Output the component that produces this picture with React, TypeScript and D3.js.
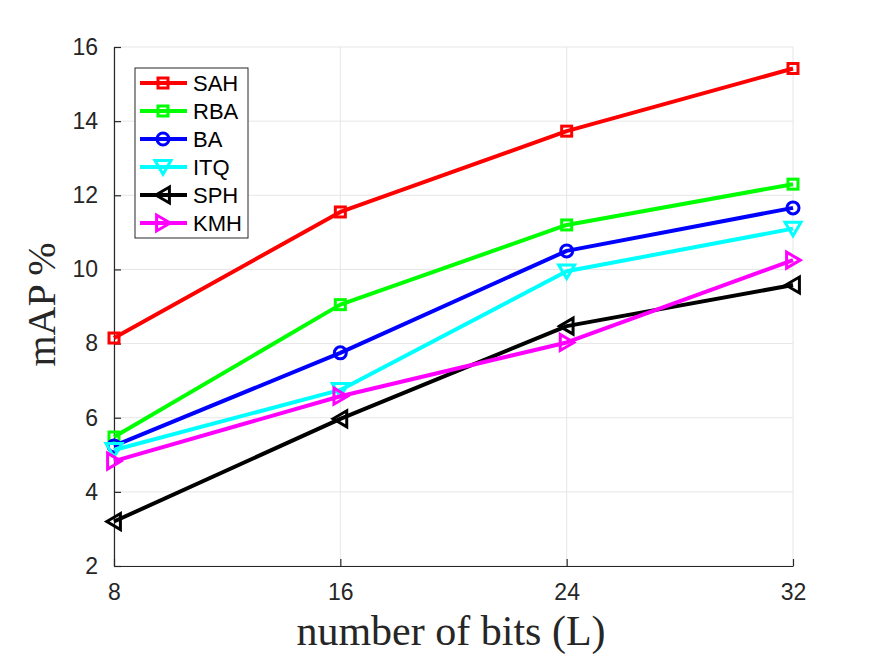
import React, { useEffect, useRef } from 'react';
import * as d3 from 'd3';

// number of bits on the x axis
const bits = [8, 16, 24, 32];

// mAP % per method
const sah = [8.15, 11.55, 13.73, 15.42];
const rba = [5.48, 9.05, 11.2, 12.3];
const ba = [5.24, 7.75, 10.5, 11.66];
const itq = [5.13, 6.75, 9.95, 11.1];
const sph = [3.2, 5.97, 8.47, 9.58];
const kmh = [4.83, 6.58, 8.03, 10.25];

const yTicks = [2, 4, 6, 8, 10, 12, 14, 16];

const series = [
    { name: 'SAH', values: sah, color: '#ff0000', marker: 'square' },
    { name: 'RBA', values: rba, color: '#00ff00', marker: 'square' },
    { name: 'BA', values: ba, color: '#0000ff', marker: 'circle' },
    { name: 'ITQ', values: itq, color: '#00ffff', marker: 'down' },
    { name: 'SPH', values: sph, color: '#000000', marker: 'left' },
    { name: 'KMH', values: kmh, color: '#ff00ff', marker: 'right' }
];

// draw one marker centred at (0,0) into a group
function drawMarker(g, kind, color) {
    const sw = 3;
    if (kind === 'square') {
        g.append('rect').attr('x', -5).attr('y', -5).attr('width', 10).attr('height', 10)
            .attr('fill', 'none').attr('stroke', color).attr('stroke-width', sw);
    } else if (kind === 'circle') {
        g.append('circle').attr('r', 6)
            .attr('fill', 'none').attr('stroke', color).attr('stroke-width', sw);
    } else {
        const s = 8;
        let pts;
        if (kind === 'down') pts = [[-s, -s * 0.8], [s, -s * 0.8], [0, s * 0.9]];
        else if (kind === 'left') pts = [[-s * 0.9, 0], [s * 0.8, -s], [s * 0.8, s]];
        else pts = [[s * 0.9, 0], [-s * 0.8, -s], [-s * 0.8, s]];
        g.append('path').attr('d', 'M' + pts.map(p => p.join(',')).join('L') + 'Z')
            .attr('fill', 'none').attr('stroke', color).attr('stroke-width', sw)
            .attr('stroke-linejoin', 'miter');
    }
}

export default function App() {
    const ref = useRef(null);

    useEffect(() => {
        const svg = d3.select(ref.current);
        svg.selectAll('*').remove();

        const left = 114, right = 793, top = 47, bottom = 566;
        const tickFont = 'Liberation Sans, Arial, sans-serif';
        const titleFont = 'Liberation Serif, serif';

        const x = d3.scaleLinear().domain([8, 32]).range([left, right]);
        const y = d3.scaleLinear().domain([2, 16]).range([bottom, top]);

        // grid
        const grid = svg.append('g').attr('stroke', '#e6e6e6').attr('stroke-width', 1);
        bits.forEach(b => {
            grid.append('line').attr('x1', x(b)).attr('x2', x(b)).attr('y1', top).attr('y2', bottom);
        });
        yTicks.forEach(t => {
            grid.append('line').attr('x1', left).attr('x2', right).attr('y1', y(t)).attr('y2', y(t));
        });

        // axes, ticks pointing inward
        const xAxis = svg.append('g').attr('transform', `translate(0,${bottom})`)
            .call(d3.axisBottom(x).tickValues(bits).tickSizeInner(-7).tickSizeOuter(0).tickPadding(18));
        const yAxis = svg.append('g').attr('transform', `translate(${left},0)`)
            .call(d3.axisLeft(y).tickValues(yTicks).tickSizeInner(-7).tickSizeOuter(0).tickPadding(16));
        [xAxis, yAxis].forEach(a => {
            a.attr('font-size', null).attr('font-family', null);
            a.select('.domain').attr('stroke', '#262626').attr('stroke-width', 1.2);
            a.selectAll('.tick line').attr('stroke', '#262626').attr('stroke-width', 1.2);
            a.selectAll('.tick text').attr('fill', '#262626')
                .style('font-family', tickFont).style('font-size', '23px');
        });

        // lines and markers
        const line = d3.line().x((d, i) => x(bits[i])).y(d => y(d));
        series.forEach(s => {
            svg.append('path').datum(s.values).attr('d', line)
                .attr('fill', 'none').attr('stroke', s.color).attr('stroke-width', 4)
                .attr('stroke-linejoin', 'round');
            s.values.forEach((v, i) => {
                const g = svg.append('g').attr('transform', `translate(${x(bits[i])},${y(v)})`);
                drawMarker(g, s.marker, s.color);
            });
        });

        // legend
        const lg = svg.append('g');
        lg.append('rect').attr('x', 135).attr('y', 68).attr('width', 113).attr('height', 170)
            .attr('fill', '#fff').attr('stroke', '#262626').attr('stroke-width', 1);
        series.forEach((s, i) => {
            const cy = 83 + i * 28;
            lg.append('line').attr('x1', 140).attr('x2', 187).attr('y1', cy).attr('y2', cy)
                .attr('stroke', s.color).attr('stroke-width', 4);
            drawMarker(lg.append('g').attr('transform', `translate(163,${cy})`), s.marker, s.color);
            lg.append('text').attr('x', 193).attr('y', cy + 8).text(s.name)
                .style('font-family', tickFont).style('font-size', '22px').attr('fill', '#000');
        });

        // axis titles
        svg.append('text').attr('x', 451).attr('y', 645)
            .attr('text-anchor', 'middle').style('font-family', titleFont)
            .style('font-size', '42px').attr('fill', '#262626').text('number of bits (L)');
        svg.append('text').attr('transform', `translate(55,${(top + bottom) / 2 - 2}) rotate(-90)`)
            .attr('text-anchor', 'middle').style('font-family', titleFont)
            .style('font-size', '40px').attr('fill', '#262626').text('mAP %');
    }, []);

    return (
        <svg ref={ref} width={875} height={657}
             style={{ position: 'absolute', left: 0, top: 0, background: '#fff' }} />
    );
}
